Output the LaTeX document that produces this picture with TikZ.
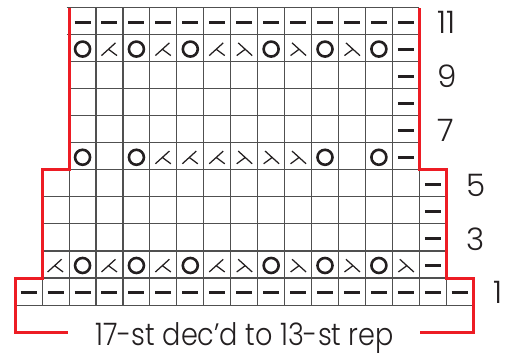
\documentclass[tikz,border=0pt]{standalone}
\usepackage{graphicx}
\usepackage{fontspec}
\setmainfont{Poppins}[UprightFont=* Light]
\definecolor{kred}{RGB}{237,28,36}
\definecolor{kink}{RGB}{35,31,32}
\definecolor{kgrid}{RGB}{80,80,80}
\newcommand\ksymO{\draw[ksym, line width=2.6pt] (0pt,0pt) circle (7.5pt);}
\newcommand\ksymk{\draw[ksym, line width=1.25pt] (-8pt,-6.5pt) -- (6pt,6.2pt) (-1pt,-0.2pt) -- (7.5pt,-6.5pt);}
\newcommand\ksyms{\draw[ksym, line width=1.25pt] (8pt,-6.5pt) -- (-6pt,6.2pt) (1pt,-0.2pt) -- (-7.5pt,-6.5pt);}
\newcommand\ksymp{\draw[ksym, line width=3pt] (-8pt,0pt) -- (8pt,0pt);}
\newcommand\ksymn{}
\begin{document}
\begin{tikzpicture}[x=26.94pt, y=-27.05pt,
  gridl/.style={draw=kgrid, line width=1.1pt},
  ksym/.style={draw=kink, line cap=butt},
  redl/.style={draw=kred, line width=3pt, line join=miter},
  lbl/.style={text=kink, inner sep=0pt, font=\fontsize{31}{31}\selectfont}]
\useasboundingbox (-0.5642,-0.2773) rectangle (18.2183,12.8835);
% grid
\draw[gridl] (1.91,0) -- (15,0);
\draw[gridl] (1.91,1) -- (15,1);
\foreach \y in {2,...,5} \draw[gridl] (2,\y) -- (15,\y);
\foreach \y in {6,...,9} \draw[gridl] (1,\y) -- (16,\y);
\foreach \y in {10,11} \draw[gridl] (0,\y) -- (17,\y);
\foreach \x in {2,...,15} \draw[gridl] (\x,0) -- (\x,6);
\foreach \x in {1,...,16} \draw[gridl] (\x,6) -- (\x,10);
\foreach \x in {0,...,17} \draw[gridl] (\x,10) -- (\x,11);
% symbols
\newcommand\krow[3]{\foreach \s [count=\i] in {#3} {\begin{scope}[shift={(\i+#1-0.5,#2+0.5)}, yshift=-1pt]\csname ksym\s\endcsname\end{scope}}}
\krow{2}{0}{p,p,p,p,p,p,p,p,p,p,p,p,p}
\krow{2}{1}{O,k,O,k,O,k,s,O,s,O,s,O,p}
\krow{2}{2}{n,n,n,n,n,n,n,n,n,n,n,n,p}
\krow{2}{3}{n,n,n,n,n,n,n,n,n,n,n,n,p}
\krow{2}{4}{n,n,n,n,n,n,n,n,n,n,n,n,p}
\krow{2}{5}{O,n,O,k,k,k,s,s,s,O,n,O,p}
\krow{1}{6}{n,n,n,n,n,n,n,n,n,n,n,n,n,n,p}
\krow{1}{7}{n,n,n,n,n,n,n,n,n,n,n,n,n,n,p}
\krow{1}{8}{n,n,n,n,n,n,n,n,n,n,n,n,n,n,p}
\krow{1}{9}{k,O,k,O,k,O,k,s,O,s,O,s,O,s,p}
\krow{0}{10}{p,p,p,p,p,p,p,p,p,p,p,p,p,p,p,p,p}
% red outline
\coordinate (bl) at (1.96,12.03);
\coordinate (br) at (15.03,12.03);
\draw[redl] (2,0) -- (2,6) -- (1,6) -- (1,10) -- (0,10) -- (0,12.03) -- (bl);
\draw[redl] (br) -- (17,12.03) -- (17,10) -- (16,10) -- (16,6) -- (15,6) -- (15,0);
% labels
\node[lbl, anchor=base] (cap) at (8.52,12.48) {\scalebox{0.875}[1]{17-st dec’d to 13-st rep}};
\node[lbl, anchor=base west] (r11) at (15.65,0.96) {11};
\node[lbl, anchor=base west] (r9) at (15.65,2.97) {9};
\node[lbl, anchor=base west] (r7) at (15.65,4.97) {7};
\node[lbl, anchor=base west] (r5) at (16.75,6.98) {5};
\node[lbl, anchor=base west] (r3) at (16.75,8.98) {3};
\node[lbl, anchor=base west] (r1) at (17.75,10.95) {1};
\end{tikzpicture}
\end{document}
